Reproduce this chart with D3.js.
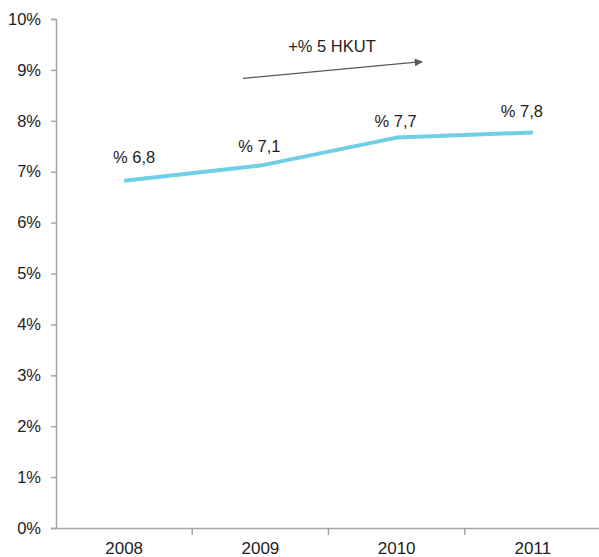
<!DOCTYPE html>
<html><head><meta charset="utf-8">
<script src="https://cdn.jsdelivr.net/npm/d3@7"></script>
<style>body{margin:0;background:#fff}svg{display:block}text{font-family:"Liberation Sans",Arial,sans-serif;fill:#222}</style>
</head><body><svg id="c" width="599" height="557"></svg>
<script>
const years = ["2008","2009","2010","2011"];
const values = [6.82, 7.12, 7.67, 7.77];
const labels = ["% 6,8","% 7,1","% 7,7","% 7,8"];
const yTicks = [0,1,2,3,4,5,6,7,8,9,10];
const annotation = "+% 5 HKUT";
const labelOffsets = [[10,-18],[-1,-14],[-1,-11],[-11,-16]];

const svg = d3.select("#c");
const m = {left:56, right:-2, top:19, bottom:29};
const W = 599, H = 557;
const x = d3.scaleBand().domain(years).range([m.left, W - m.right]);
const y = d3.scaleLinear().domain([0,10]).range([H - m.bottom, m.top]);

const axisColor = "#a6a6a6";
// y axis
const ya = svg.append("g").attr("transform",`translate(${m.left},0)`)
  .call(d3.axisLeft(y).tickValues(yTicks).tickFormat(d=>d+"%").tickSize(5).tickPadding(10));
ya.select(".domain").attr("stroke",axisColor).attr("stroke-width",1.5);
ya.selectAll(".tick line").attr("stroke",axisColor).attr("stroke-width",1.5);
ya.selectAll(".tick text").attr("font-size","16.5px").attr("fill","#222").attr("font-family","Liberation Sans, Arial, sans-serif");

// x axis
const xa = svg.append("g").attr("transform",`translate(0,${y(0)})`)
  .call(d3.axisBottom(x).tickSize(0).tickPadding(14));
xa.select(".domain").attr("stroke",axisColor).attr("stroke-width",1.5);
xa.selectAll(".tick text").attr("font-size","17px").attr("fill","#222").attr("font-family","Liberation Sans, Arial, sans-serif");
// category boundary ticks
svg.append("g").selectAll("line").data(years.slice(1)).join("line")
  .attr("x1",d=>x(d)).attr("x2",d=>x(d)).attr("y1",y(0)).attr("y2",y(0)+7)
  .attr("stroke",axisColor).attr("stroke-width",1.5);

// line
const line = d3.line().x((d,i)=>x(years[i])+x.bandwidth()/2).y(d=>y(d));
svg.append("path").datum(values).attr("d",line).attr("fill","none")
  .attr("stroke","#6fcfe6").attr("stroke-width",4).attr("stroke-linejoin","round");

// labels
svg.append("g").selectAll("text").data(values).join("text")
  .attr("x",(d,i)=>x(years[i])+x.bandwidth()/2+labelOffsets[i][0])
  .attr("y",(d,i)=>y(d)+labelOffsets[i][1])
  .attr("text-anchor","middle").attr("font-size","16.5px")
  .text((d,i)=>labels[i]);

// annotation
const defs = svg.append("defs");
defs.append("marker").attr("id","ah").attr("viewBox","0 0 10 10").attr("refX",9).attr("refY",5)
  .attr("markerWidth",10).attr("markerHeight",8).attr("markerUnits","userSpaceOnUse").attr("orient","auto")
  .append("path").attr("d","M0,0L10,5L0,10Z").attr("fill","#595959");
svg.append("line").attr("x1",243).attr("y1",78.3).attr("x2",422).attr("y2",61.7)
  .attr("stroke","#595959").attr("stroke-width",1.3).attr("marker-end","url(#ah)");
svg.append("text").attr("x",332).attr("y",51.5).attr("text-anchor","middle").attr("font-size","16.5px").text(annotation);
</script></body></html>
